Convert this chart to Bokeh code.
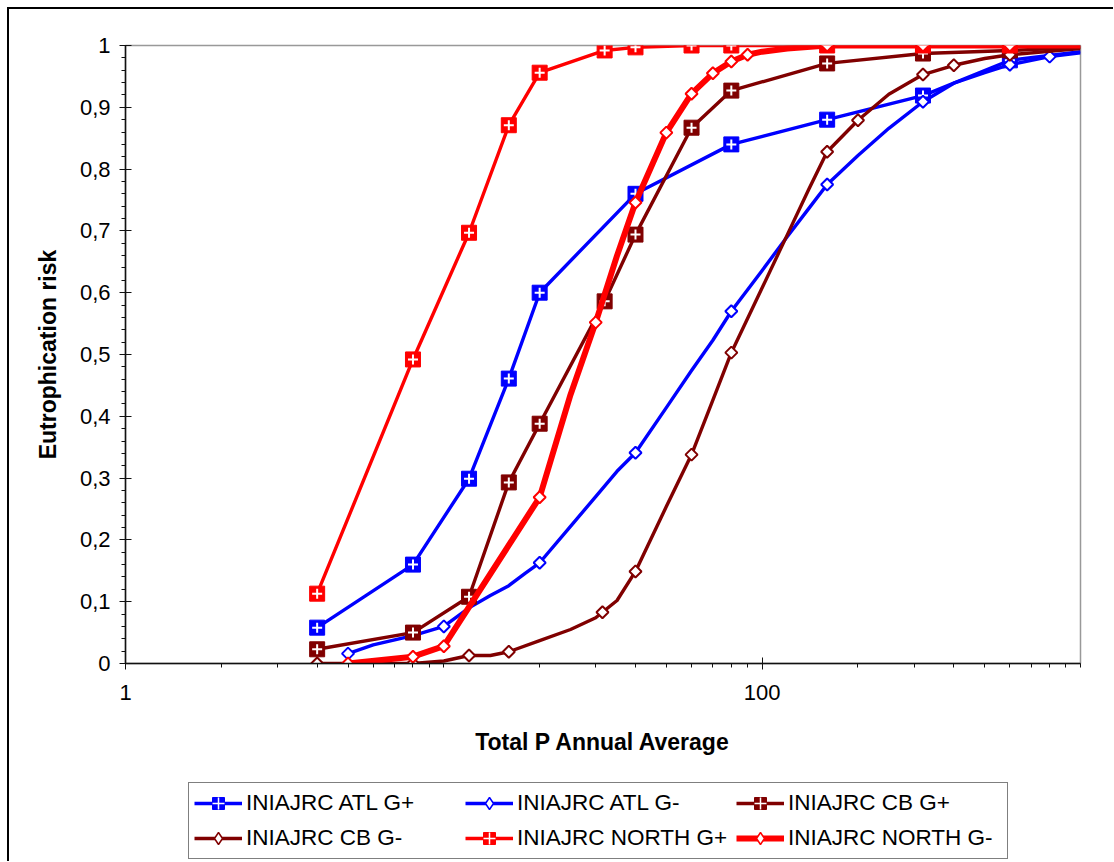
import numpy as np
from bokeh.plotting import figure
from bokeh.layouts import column
from bokeh.models import Range1d, FixedTicker, CustomJSTickFormatter, Legend, LegendItem
from bokeh.embed import file_html
from bokeh.resources import INLINE

# ---------------- data ----------------
# INIAJRC ATL G+
atl_gp_x = [4, 8, 12, 16, 20, 40, 80, 160, 320, 600, 1000]
atl_gp_y = [0.058, 0.160, 0.299, 0.461, 0.600, 0.760, 0.840, 0.880, 0.919, 0.976, 0.990]
# INIAJRC CB G+
cb_gp_x = [4, 8, 12, 16, 20, 32, 40, 60, 80, 160, 320, 600, 1000]
cb_gp_y = [0.023, 0.050, 0.108, 0.293, 0.388, 0.586, 0.694, 0.867, 0.927, 0.971, 0.987, 0.992, 0.997]
# INIAJRC NORTH G+
north_gp_x = [4, 8, 12, 16, 20, 32, 40, 60, 80, 160, 320, 600, 1000]
north_gp_y = [0.113, 0.492, 0.697, 0.871, 0.956, 0.992, 0.997, 1.0, 1.0, 1.0, 1.0, 1.0, 1.0]

# INIAJRC ATL G- (curve and marked points)
atl_gm_x = [5, 6, 8, 10, 12, 14, 16, 18, 20, 25, 30, 35, 40, 50, 60, 70, 80, 100, 120,
            140, 160, 200, 250, 320, 400, 500, 600, 800, 1000]
atl_gm_y = [0.016, 0.030, 0.045, 0.060, 0.090, 0.110, 0.126, 0.146, 0.163, 0.222, 0.270,
            0.311, 0.341, 0.414, 0.474, 0.523, 0.570, 0.636, 0.691, 0.736, 0.775, 0.822,
            0.866, 0.909, 0.939, 0.956, 0.969, 0.982, 0.988]
atl_gm_mx = [5, 10, 20, 40, 80, 160, 320, 600, 800]
atl_gm_my = [0.016, 0.060, 0.163, 0.341, 0.570, 0.775, 0.909, 0.969, 0.982]

# INIAJRC CB G-
cb_gm_x = [4, 8, 10, 12, 14, 16, 20, 25, 30, 31.5, 35, 40, 50, 60, 70, 80, 100, 120, 140,
           160, 200, 250, 320, 400, 500, 600, 1000]
cb_gm_y = [0.0, 0.0, 0.004, 0.013, 0.013, 0.019, 0.037, 0.055, 0.074, 0.083, 0.102, 0.149,
           0.254, 0.338, 0.426, 0.503, 0.608, 0.694, 0.767, 0.828, 0.879, 0.921, 0.953,
           0.968, 0.979, 0.985, 0.995]
cb_gm_mx = [4, 8, 12, 16, 31.5, 40, 60, 80, 160, 200, 320, 400, 600]
cb_gm_my = [0.0, 0.0, 0.013, 0.019, 0.083, 0.149, 0.338, 0.503, 0.828, 0.879, 0.953, 0.968, 0.985]

# INIAJRC NORTH G-
north_gm_x = [5, 8, 10, 20, 25, 30, 35, 40, 50, 60, 70, 80, 90, 100, 120, 160, 320, 600, 1000]
north_gm_y = [0.0, 0.011, 0.028, 0.269, 0.435, 0.552, 0.660, 0.746, 0.859, 0.922, 0.955,
              0.974, 0.985, 0.990, 0.995, 1.0, 1.0, 1.0, 1.0]
north_gm_mx = [5, 8, 10, 20, 30, 40, 50, 60, 70, 80, 90, 160, 320, 600]
north_gm_my = [0.0, 0.011, 0.028, 0.269, 0.552, 0.746, 0.859, 0.922, 0.955, 0.974, 0.985,
               1.0, 1.0, 1.0]

labels = ["INIAJRC ATL G+", "INIAJRC ATL G-", "INIAJRC CB G+",
          "INIAJRC CB G-", "INIAJRC NORTH G+", "INIAJRC NORTH G-"]

x_major = [1, 100]
x_minor = [2, 3, 4, 5, 6, 7, 8, 9, 10, 20, 30, 40, 50, 60, 70, 80, 90,
           200, 300, 400, 500, 600, 700, 800, 900, 1000]
y_major = [0, 0.1, 0.2, 0.3, 0.4, 0.5, 0.6, 0.7, 0.8, 0.9, 1.0]
y_minor = [round(i * 0.02, 2) for i in range(51)]

BLUE = "#0000FF"
DRED = "#800000"
RED = "#FF0000"
FONT = "Liberation Sans"

# ---------------- main figure ----------------
p = figure(width=1104, height=770, x_axis_type="log",
           x_range=Range1d(1, 1000), y_range=Range1d(0, 1),
           output_backend="svg", toolbar_location=None,
           min_border_left=116, min_border_top=36, min_border_right=33,
           min_border_bottom=116)
p.background_fill_color = "white"
p.border_fill_color = "white"
p.xgrid.visible = False
p.ygrid.visible = False
p.outline_line_color = "#999999"
p.outline_line_width = 1.5

p.xaxis.ticker = FixedTicker(ticks=x_major, minor_ticks=x_minor)
p.xaxis.formatter = CustomJSTickFormatter(code="return tick.toFixed(0);")
p.yaxis.ticker = FixedTicker(ticks=y_major, minor_ticks=y_minor)
p.yaxis.formatter = CustomJSTickFormatter(
    code="return (Math.abs(tick) < 1e-9 || Math.abs(tick-1) < 1e-9) ? tick.toFixed(0) : tick.toFixed(1).replace('.', ',');")

for ax in (p.xaxis, p.yaxis):
    ax.axis_line_color = "#111111"
    ax.axis_line_width = 1.5
    ax.major_tick_line_color = "#111111"
    ax.minor_tick_line_color = "#111111"
    ax.major_tick_line_width = 1
    ax.minor_tick_line_width = 1
    ax.major_tick_in = 6
    ax.major_tick_out = 6
    ax.minor_tick_in = 0
    ax.minor_tick_out = 4
    ax.major_label_text_font = FONT
    ax.major_label_text_font_size = "22px"
    ax.major_label_text_color = "black"
    ax.axis_label_text_font = FONT
    ax.axis_label_text_font_size = "23px"
    ax.axis_label_text_font_style = "bold"
    ax.axis_label_text_color = "black"

p.xaxis.axis_label = "Total P Annual Average"
p.yaxis.axis_label = "Eutrophication risk"
p.xaxis.major_label_standoff = 15
p.xaxis.axis_label_standoff = 26
p.yaxis.major_label_standoff = 9
p.yaxis.axis_label_standoff = 16

def plus_series(xs, ys, color, lw):
    p.line(xs, ys, line_color=color, line_width=lw, line_join="round")
    p.scatter(xs[:-1], ys[:-1], marker="square", size=15,
              fill_color=color, line_color=color, line_width=1)
    p.scatter(xs[:-1], ys[:-1], marker="cross", size=10,
              line_color="white", line_width=2)

def diamond_series(xs, ys, mx, my, color, lw):
    p.line(xs, ys, line_color=color, line_width=lw, line_join="round")
    p.scatter(mx, my, marker="square", angle=np.pi / 4, size=8.5,
              fill_color="white", line_color=color, line_width=2)

plus_series(atl_gp_x, atl_gp_y, BLUE, 3.4)
diamond_series(atl_gm_x, atl_gm_y, atl_gm_mx, atl_gm_my, BLUE, 3.4)
plus_series(cb_gp_x, cb_gp_y, DRED, 3.4)
diamond_series(cb_gm_x, cb_gm_y, cb_gm_mx, cb_gm_my, DRED, 3.4)
plus_series(north_gp_x, north_gp_y, RED, 3.4)
diamond_series(north_gm_x, north_gm_y, north_gm_mx, north_gm_my, RED, 6)

# ---------------- legend strip ----------------
q = figure(width=1104, height=82, x_range=Range1d(0, 1), y_range=Range1d(0, 1),
           output_backend="svg", toolbar_location=None,
           x_axis_location=None, y_axis_location=None, min_border=0)
q.xgrid.visible = False
q.ygrid.visible = False
q.outline_line_color = None
q.background_fill_color = "white"
q.border_fill_color = "white"

# sample renderers for the legend only (placed outside the visible range)
hide_x = [-5, -4]
hide_y = [-5, -4]

def leg_plus(color, lw):
    ln = q.line(hide_x, hide_y, line_color=color, line_width=lw)
    sq = q.scatter(hide_x, hide_y, marker="square", fill_color=color, line_color=color)
    cr = q.scatter(hide_x, hide_y, marker="cross", line_color="white", line_width=1.5)
    return [ln, sq, cr]

def leg_diamond(color, lw):
    ln = q.line(hide_x, hide_y, line_color=color, line_width=lw)
    dm = q.scatter(hide_x, hide_y, marker="diamond", fill_color="white",
                   line_color=color, line_width=1.5)
    return [ln, dm]

items = [
    LegendItem(label=labels[0], renderers=leg_plus(BLUE, 3.4)),
    LegendItem(label=labels[1], renderers=leg_diamond(BLUE, 3.4)),
    LegendItem(label=labels[2], renderers=leg_plus(DRED, 3.4)),
    LegendItem(label=labels[3], renderers=leg_diamond(DRED, 3.4)),
    LegendItem(label=labels[4], renderers=leg_plus(RED, 3.4)),
    LegendItem(label=labels[5], renderers=leg_diamond(RED, 6)),
]
legend = Legend(items=items, orientation="horizontal", ncols=3, location=(63, 2))
legend.label_text_font = FONT
legend.label_text_font_size = "22.5px"
legend.label_text_color = "black"
legend.glyph_width = 48
legend.glyph_height = 30
legend.label_standoff = 4
legend.label_width = 214
legend.spacing = 5
legend.padding = 5
legend.margin = 0
legend.border_line_color = "black"
legend.border_line_width = 1
legend.background_fill_color = "white"
legend.background_fill_alpha = 1.0
q.add_layout(legend, "center")

layout = column(p, q, spacing=0,
                styles={"margin-left": "7px", "margin-top": "7px",
                        "border-left": "2px solid black", "border-top": "2px solid black"})

open("out.html", "w").write(file_html(layout, INLINE))
